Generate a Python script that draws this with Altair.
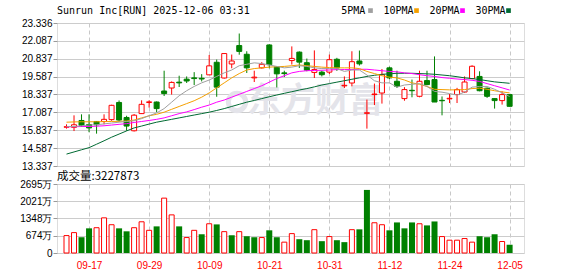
import altair as alt
import pandas as pd

dates = ["09-12","09-15","09-16","09-17","09-18","09-19","09-22","09-23","09-24","09-25",
         "09-26","09-29","09-30","10-01","10-02","10-03","10-06","10-07","10-08","10-09",
         "10-10","10-13","10-14","10-15","10-16","10-17","10-20","10-21","10-22","10-23",
         "10-24","10-27","10-28","10-29","10-30","10-31","11-03","11-04","11-05","11-06",
         "11-07","11-10","11-11","11-12","11-13","11-14","11-17","11-18","11-19","11-20",
         "11-21","11-24","11-25","11-26","11-28","12-01","12-02","12-03","12-04","12-05"]
label_dates = ["09-17","09-29","10-09","10-21","10-31","11-12","11-24","12-05"]

open_ = [16.05,16.04,16.52,16.23,16.45,16.45,16.58,17.78,16.73,15.80,
         17.00,17.78,17.81,18.58,18.79,19.20,19.41,19.50,19.47,19.71,
         20.59,19.49,20.47,21.76,21.15,19.50,20.20,21.80,20.27,19.85,
         20.71,21.30,20.56,19.88,19.90,19.90,20.80,18.94,19.14,20.68,
         17.02,18.33,18.44,20.20,19.26,18.05,18.63,18.21,19.31,19.38,
         17.93,18.03,18.33,18.51,19.45,19.60,18.78,18.05,17.91,18.33]
close = [16.08,16.22,16.18,16.00,16.22,16.60,17.58,16.55,16.13,16.89,
         17.65,17.82,17.35,18.40,19.18,19.15,19.28,19.45,19.42,20.34,
         18.85,21.20,20.68,21.35,20.20,19.55,20.45,20.42,19.78,19.80,
         20.86,20.60,20.04,20.08,19.72,20.77,20.19,18.98,20.63,20.48,
         17.06,18.37,19.73,19.50,18.91,18.68,18.60,19.26,19.03,17.81,
         17.90,18.07,18.68,19.21,20.31,18.60,18.21,17.91,18.33,17.51]
high = [16.25,16.88,16.95,16.95,16.48,16.95,17.62,17.92,16.85,16.97,
        17.93,17.93,17.85,20.00,19.25,19.65,19.60,19.90,19.76,21.10,
        20.78,21.22,21.13,22.60,21.36,20.00,20.60,21.85,20.30,20.00,
        21.70,21.35,20.85,21.42,20.00,21.13,20.90,19.60,21.36,21.41,
        17.98,19.10,20.12,20.28,20.00,18.85,19.38,20.00,20.00,21.00,
        18.20,18.37,18.80,19.60,20.38,19.96,18.82,18.07,18.56,18.35]
low = [15.95,15.78,16.08,15.70,15.60,16.25,16.50,16.42,15.80,15.75,
       16.98,17.42,17.10,18.23,18.33,18.86,19.14,19.00,19.25,19.70,
       18.18,19.45,20.17,21.12,19.84,19.21,20.15,20.17,18.83,19.56,
       20.43,20.19,19.96,19.49,19.60,19.77,19.99,18.79,18.91,20.36,
       15.95,17.60,17.70,19.40,18.79,17.90,18.14,18.14,18.98,17.81,
       16.88,17.74,17.74,18.44,19.40,18.56,18.10,17.35,17.63,17.50]

ma5 = [16.10,16.10,16.15,16.20,16.22,16.28,16.34,16.40,16.45,16.50,
       16.65,16.85,17.05,17.35,17.80,18.25,18.60,18.90,19.15,19.35,
       19.60,19.85,20.05,20.35,20.45,20.55,20.50,20.40,20.30,20.20,
       20.25,20.35,20.30,20.20,20.15,20.15,20.15,19.95,20.05,20.05,
       19.70,19.30,19.15,19.15,18.85,19.00,19.05,19.10,18.90,18.55,
       18.50,18.40,18.30,18.50,18.85,18.90,18.90,18.70,18.45,18.20]
ma10 = [16.40,16.42,16.43,16.43,16.43,16.44,16.45,16.46,16.48,16.55,
        16.70,16.85,16.95,17.10,17.30,17.50,17.70,17.90,18.15,18.45,
        18.80,19.15,19.50,19.80,20.05,20.15,20.20,20.25,20.28,20.30,
        20.35,20.40,20.35,20.30,20.25,20.22,20.20,20.20,20.20,20.15,
        19.95,19.80,19.65,19.55,19.50,19.35,19.15,19.05,18.90,18.70,
        18.68,18.66,18.66,18.68,18.75,18.78,18.70,18.60,18.52,18.45]
ma20 = [16.08,16.08,16.10,16.10,16.12,16.15,16.20,16.25,16.30,16.38,
        16.45,16.52,16.60,16.70,16.85,17.00,17.12,17.28,17.45,17.60,
        17.80,17.95,18.15,18.35,18.55,18.75,18.95,19.20,19.45,19.65,
        19.85,19.95,20.00,20.02,20.03,20.05,20.08,20.08,20.08,20.10,
        20.10,20.05,20.00,19.95,19.92,19.85,19.80,19.72,19.65,19.60,
        19.52,19.47,19.42,19.38,19.33,19.25,19.10,18.95,18.80,18.65]
ma30 = [14.17,14.32,14.47,14.62,14.86,15.10,15.35,15.57,15.79,16.00,
        16.13,16.27,16.40,16.50,16.60,16.70,16.80,16.90,17.00,17.10,
        17.22,17.35,17.50,17.65,17.80,17.92,18.05,18.18,18.30,18.42,
        18.53,18.65,18.75,18.87,19.00,19.10,19.20,19.30,19.40,19.50,
        19.60,19.68,19.75,19.78,19.82,19.82,19.82,19.80,19.78,19.75,
        19.70,19.65,19.58,19.50,19.45,19.38,19.30,19.22,19.17,19.12]

volume = [680,796,616,963,988,1373,1104,963,847,988,
          1219,886,1040,2143,1489,1040,603,886,732,1142,
          1117,834,693,834,655,616,603,886,616,424,
          757,539,500,911,462,642,500,424,911,924,
          2464,1181,1104,886,1194,963,1194,1142,1078,1232,
          642,500,500,565,424,655,616,732,449,322.7873]
vol_up = [1,1,0,0,1,1,1,0,0,1,1,1,0,1,1,0,1,1,0,1,
          0,1,0,1,0,0,1,0,0,1,1,0,0,1,0,1,0,0,1,0,
          0,1,1,0,0,0,0,1,0,0,1,1,1,1,1,0,0,0,1,0]

price_ticks = [13.337,14.587,15.837,17.087,18.337,19.587,20.837,22.087,23.336]
vol_ticks = [0,674,1348,2021,2695]
title_text = "Sunrun Inc[RUN] 2025-12-06 03:31"
vol_title = "成交量:3227873"
watermark_text = "东方财富"
legend_names = ["5PMA","10PMA","20PMA","30PMA"]
legend_colors = ["#a0a0a0","#f5a000","#ff00ff","#006a32"]

RED = "#ff0000"
GREEN = "#008000"
LABEL_FONT = "DejaVu Sans"

n = len(dates)
df = pd.DataFrame({
    "i": list(range(n)), "date": dates, "open": open_, "close": close,
    "high": high, "low": low, "ma5": ma5, "ma10": ma10, "ma20": ma20, "ma30": ma30,
    "vol": volume, "vup": vol_up,
})
df["up"] = (df["close"] >= df["open"]).astype(int)

label_idx = [dates.index(d) for d in label_dates]
date_arr = "[" + ",".join("'%s'" % d for d in dates) + "]"

W = 467
H_TOP = 143
H_VOL = 69

xscale = alt.Scale(domain=[-0.6, 60.25], nice=False, zero=False)
yscale = alt.Scale(domain=[13.337, 23.336], nice=False, zero=False)
vscale = alt.Scale(domain=[0, 2695], nice=False, zero=True)

x_top_axis = alt.Axis(
    values=label_idx, labels=False, ticks=False, domain=False, grid=True,
    gridDash=[4, 3], gridColor="#c8c8c8", gridWidth=1, title=None)
y_top_axis = alt.Axis(
    values=price_ticks, format=".3f", labelFlush=False, labelOverlap=False,
    tickSize=4, tickColor="#999999", labelPadding=1, domain=False,
    grid=True, gridColor="#cccccc", title=None)
x_bot_axis = alt.Axis(
    values=label_idx, labelExpr=date_arr + "[datum.value]", labelColor=RED,
    labelFlush=False, labelOverlap=False, ticks=False, domain=False, labelPadding=7,
    grid=True, gridDash=[4, 3], gridColor="#c8c8c8", gridWidth=1, title=None)
y_bot_axis = alt.Axis(
    values=vol_ticks, labelExpr="datum.value == 0 ? '0' : datum.value + '万'",
    labelFlush=False, labelOverlap=False, tickSize=4, tickColor="#999999", labelPadding=1,
    domain=False, grid=True, gridColor="#cccccc", title=None)

xt = alt.X("i:Q", scale=xscale, axis=x_top_axis)
xb = alt.X("i:Q", scale=xscale, axis=x_bot_axis)

def yt(col):
    return alt.Y(col + ":Q", scale=yscale, axis=y_top_axis)

base = alt.Chart(df)

anchor = alt.Chart(pd.DataFrame({"a": [0]})).mark_rule(color="white", strokeWidth=1).encode(
    x=alt.value(-55.2), x2=alt.value(-55.2), y=alt.value(-21.2), y2=alt.value(-18))

watermark = alt.Chart(pd.DataFrame({"t": [watermark_text]})).mark_text(
    font="Noto Sans CJK SC", fontSize=34, fontWeight="bold", color="#e4e4ea",
    align="center", baseline="middle").encode(
    x=alt.value(258), y=alt.value(79), text="t:N")
logo = alt.Chart(pd.DataFrame({"t": [0]})).mark_point(
    shape="circle", size=300, filled=False, stroke="#e4e4ea", strokeWidth=5, opacity=1).encode(
    x=alt.value(180), y=alt.value(79))

wick_up = base.transform_filter("datum.up == 1").mark_rule(color=RED, strokeWidth=1).encode(
    x=xt, y=yt("low"), y2="high:Q")
wick_dn = base.transform_filter("datum.up == 0").mark_rule(color=GREEN, strokeWidth=1).encode(
    x=xt, y=yt("low"), y2="high:Q")
body_up = base.transform_filter("datum.up == 1").mark_bar(
    size=5, fill="white", stroke=RED, strokeWidth=1, orient="vertical").encode(
    x=xt, y=yt("open"), y2="close:Q")
body_dn = base.transform_filter("datum.up == 0").mark_bar(
    size=5, fill=GREEN, stroke=GREEN, strokeWidth=1, orient="vertical").encode(
    x=xt, y=yt("open"), y2="close:Q")

ma_layers = []
for col, c in zip(["ma30", "ma20", "ma10", "ma5"], [legend_colors[3], legend_colors[2], legend_colors[1], legend_colors[0]]):
    ma_layers.append(base.mark_line(color=c, strokeWidth=1).encode(x=xt, y=yt(col)))

title_mark = alt.Chart(pd.DataFrame({"t": [title_text]})).mark_text(
    font="DejaVu Sans Mono", fontSize=10, align="left", baseline="middle", color="#000000").encode(
    x=alt.value(0), y=alt.value(-12.4), text="t:N")

legend_layers = []
leg_text_x = [284.3, 326.5, 372.5, 418.5]
leg_sq_x = [313.5, 359.5, 405.5, 451.5]
for name, col, tx, sx in zip(legend_names, legend_colors, leg_text_x, leg_sq_x):
    legend_layers.append(alt.Chart(pd.DataFrame({"t": [name]})).mark_text(
        font="DejaVu Sans Mono", fontSize=10, align="left", baseline="middle", color="#000000").encode(
        x=alt.value(tx), y=alt.value(-12.4), text="t:N"))
    legend_layers.append(alt.Chart(pd.DataFrame({"t": [name]})).mark_square(
        size=22, filled=True, color=col, opacity=1).encode(
        x=alt.value(sx), y=alt.value(-12.4)))

top = alt.layer(anchor, watermark, logo, wick_up, wick_dn, body_up, body_dn, *ma_layers,
                title_mark, *legend_layers).properties(width=W, height=H_TOP)

vbase = alt.Chart(df)
anchor2 = alt.Chart(pd.DataFrame({"a": [0]})).mark_rule(color="white", strokeWidth=1).encode(
    x=alt.value(-1), x2=alt.value(-1), y=alt.value(-20.3), y2=alt.value(-18))
vol_up_bars = vbase.transform_filter("datum.vup == 1").mark_bar(
    size=5, fill="white", stroke=RED, strokeWidth=1, orient="vertical").encode(
    x=xb, y=alt.Y("vol:Q", scale=vscale, axis=y_bot_axis))
vol_dn_bars = vbase.transform_filter("datum.vup == 0").mark_bar(
    size=6, fill=GREEN, orient="vertical").encode(
    x=xb, y=alt.Y("vol:Q", scale=vscale, axis=y_bot_axis))
vol_title_mark = alt.Chart(pd.DataFrame({"t": [vol_title]})).mark_text(
    font="Noto Sans CJK SC", fontSize=11.5, align="left", baseline="middle", color="#000000").encode(
    x=alt.value(0), y=alt.value(-7), text="t:N")

bottom = alt.layer(anchor2, vol_up_bars, vol_dn_bars, vol_title_mark).properties(width=W, height=H_VOL)

chart = alt.vconcat(top, bottom, spacing=-10).properties(
    padding={"left": 0, "top": 0, "right": 0, "bottom": 0}
).configure_view(stroke="#999999", strokeWidth=1).configure_axis(
    labelFont=LABEL_FONT, labelFontSize=10.5, labelColor="#1a1a1a"
).configure(background="white")

chart.save("out.html", embed_options={"renderer": "svg", "actions": False})
